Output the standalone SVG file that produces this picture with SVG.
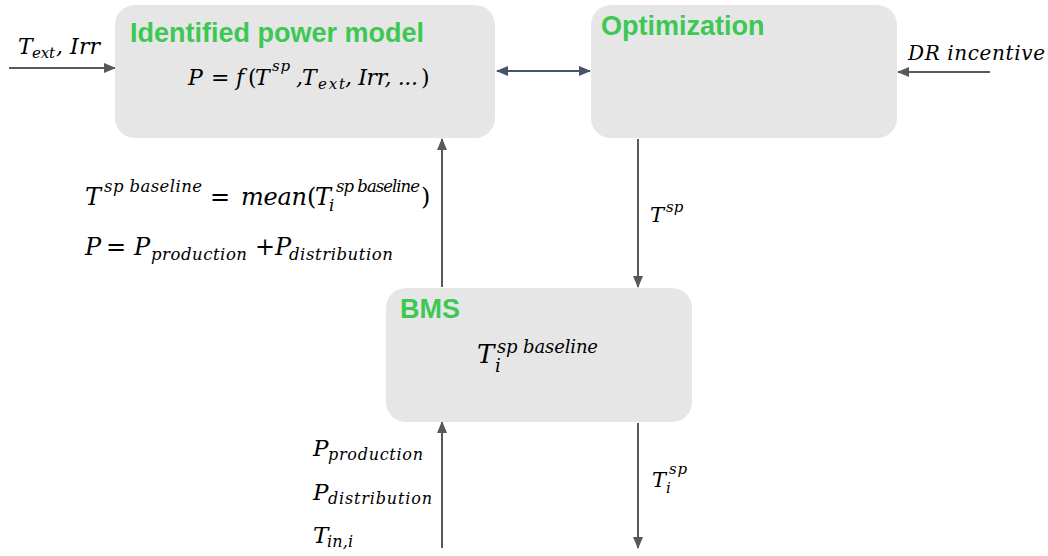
<svg xmlns="http://www.w3.org/2000/svg" width="1048" height="556" viewBox="0 0 1048 556">
<style>
.box{fill:#e6e6e6;}
.title{font-family:"Liberation Sans",Arial,sans-serif;font-weight:bold;font-size:27px;fill:#3cc853;}
.m{font-family:"DejaVu Serif","Liberation Serif",serif;font-style:italic;font-size:22px;fill:#000;}
.s{font-size:15px;}
.up{font-style:normal;}
.ln{stroke:#595959;stroke-width:2;fill:none;}
.ln2{stroke:#44546a;stroke-width:2;fill:none;}
</style>
<defs>
<marker id="ah" markerUnits="userSpaceOnUse" markerWidth="12" markerHeight="12" viewBox="0 0 12 12" refX="11" refY="6" orient="auto-start-reverse">
<path d="M0,1 L12,6 L0,11 Z" fill="#595959"/>
</marker>
<marker id="ah2" markerUnits="userSpaceOnUse" markerWidth="12" markerHeight="12" viewBox="0 0 12 12" refX="11" refY="6" orient="auto-start-reverse">
<path d="M0,1 L12,6 L0,11 Z" fill="#44546a"/>
</marker>
</defs>
<rect width="1048" height="556" fill="#fff"/>

<g id="connectors">
<line class="ln" x1="9" y1="68" x2="115" y2="68" marker-end="url(#ah)"/>
<line class="ln2" x1="497" y1="71" x2="590" y2="71" marker-start="url(#ah2)" marker-end="url(#ah2)"/>
<line class="ln" x1="990" y1="72" x2="898" y2="72" marker-end="url(#ah)"/>
<line class="ln" x1="442" y1="287" x2="442" y2="139" marker-end="url(#ah)"/>
<line class="ln" x1="638" y1="139" x2="638" y2="287" marker-end="url(#ah)"/>
<line class="ln" x1="442" y1="548" x2="442" y2="422" marker-end="url(#ah)"/>
<line class="ln" x1="638" y1="423" x2="638" y2="548" marker-end="url(#ah)"/>
</g>

<g id="node-power-model">
<rect class="box" x="115" y="5" width="380" height="133" rx="20"/>
<text class="title" x="130" y="42">Identified power model</text>
<text class="m" y="85"><tspan x="188">P</tspan><tspan x="211" class="up">=</tspan><tspan x="236">f</tspan><tspan x="248" class="up">(</tspan><tspan x="255">T</tspan><tspan x="272" class="s" dy="-14" textLength="18">sp</tspan><tspan x="296" dy="14">,</tspan><tspan x="302">T</tspan><tspan x="318" class="s" dy="4" textLength="27">ext</tspan><tspan x="345" dy="-4" textLength="73">, Irr, ...</tspan><tspan x="421" class="up">)</tspan></text>
</g>

<g id="node-optimization">
<rect class="box" x="591" y="5" width="306" height="133" rx="20"/>
<text class="title" x="601" y="35">Optimization</text>
</g>

<g id="node-bms">
<rect class="box" x="386" y="288" width="306" height="134" rx="20"/>
<text class="title" x="400" y="318">BMS</text>
<text class="m" y="363" style="font-size:26px"><tspan x="477">T</tspan><tspan x="497" style="font-size:18px" dy="-10" textLength="101">sp baseline</tspan><tspan x="495" style="font-size:18px" dy="19">i</tspan></text>
</g>

<g id="labels">
<text class="m" y="54"><tspan x="18">T</tspan><tspan x="32" class="s" dy="4" textLength="23">ext</tspan><tspan x="56" dy="-4" textLength="44">, Irr</tspan></text>
<text class="m" x="908" y="60" style="font-size:20px" textLength="137">DR incentive</text>
<text class="m" y="222" style="font-size:21px"><tspan x="650">T</tspan><tspan x="666" class="s" dy="-10">sp</tspan></text>
<text class="m" y="205" style="font-size:24px"><tspan x="85">T</tspan><tspan x="104" style="font-size:16.5px" dy="-13" textLength="98">sp baseline</tspan><tspan x="210" class="up" dy="13">=</tspan><tspan x="241" textLength="66">mean</tspan><tspan x="307" class="up">(</tspan><tspan x="315">T</tspan><tspan x="329" style="font-size:16.5px" dy="6">i</tspan><tspan x="336" style="font-size:16.5px" dy="-19" textLength="84">sp baseline</tspan><tspan x="421" class="up" dy="13">)</tspan></text>
<text class="m" y="255" style="font-size:24px"><tspan x="85">P</tspan><tspan x="106" class="up">=</tspan><tspan x="134">P</tspan><tspan x="151" style="font-size:16.5px" dy="5" textLength="96">production</tspan><tspan x="255" class="up" dy="-5">+</tspan><tspan x="275">P</tspan><tspan x="289" style="font-size:16.5px" dy="5" textLength="104">distribution</tspan></text>
<text class="m" y="456" style="font-size:23px"><tspan x="313">P</tspan><tspan x="328" style="font-size:16px" dy="4" textLength="95">production</tspan></text>
<text class="m" y="500" style="font-size:23px"><tspan x="313">P</tspan><tspan x="328" style="font-size:16px" dy="4" textLength="104">distribution</tspan></text>
<text class="m" y="543" style="font-size:23px"><tspan x="313">T</tspan><tspan x="327" style="font-size:16px" dy="4" textLength="26">in,i</tspan></text>
<text class="m" y="487" style="font-size:21px"><tspan x="652">T</tspan><tspan x="669" class="s" dy="-13" textLength="18">sp</tspan><tspan x="666" class="s" dy="19">i</tspan></text>
</g>
</svg>
